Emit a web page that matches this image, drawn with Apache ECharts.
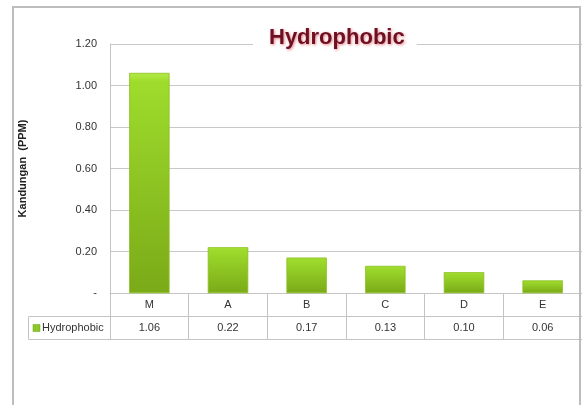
<!DOCTYPE html>
<html>
<head>
<meta charset="utf-8">
<script src="https://cdn.jsdelivr.net/npm/echarts@6/dist/echarts.min.js"></script>
<style>
  html, body { margin: 0; padding: 0; background: #ffffff; }
  #chart { width: 582px; height: 405px; }
</style>
</head>
<body>
<div id="chart"></div>
<script>
// Hydrophobic content per sample (PPM)
const categories = ['M', 'A', 'B', 'C', 'D', 'E'];
const hydrophobic = [1.06, 0.22, 0.17, 0.13, 0.10, 0.06];
const seriesName = 'Hydrophobic';
const yTicks = [0, 0.2, 0.4, 0.6, 0.8, 1.0, 1.2];

const FONT = '"Liberation Sans", "DejaVu Sans", sans-serif';
const GRID = { left: 110, top: 44, right: -2, bottom: 112 };
const ROW = 23; // height of one data-table row
const LINE = '#c4c4c4';

const chart = echarts.init(document.getElementById('chart'), null, { renderer: 'canvas' });

const barFill = new echarts.graphic.LinearGradient(0, 0, 0, 1, [
  { offset: 0, color: '#b4ea48' },
  { offset: 0.04, color: '#9edc2c' },
  { offset: 1, color: '#7aaa18' }
]);

const option = {
  backgroundColor: '#ffffff',
  animation: false,
  title: {
    text: 'Hydrophobic',
    left: 253,
    top: 27,
    backgroundColor: '#ffffff',
    padding: [0, 12, 0, 16],
    textStyle: {
      fontFamily: FONT,
      fontSize: 22,
      fontWeight: 'bold',
      color: '#6e0f22',
      textShadowColor: 'rgba(200,30,40,0.55)',
      textShadowBlur: 3,
      textShadowOffsetX: 1,
      textShadowOffsetY: 1
    },
    z: 10
  },
  grid: GRID,
  xAxis: [
    {
      type: 'category',
      data: categories,
      boundaryGap: true,
      axisLine: { show: true, lineStyle: { color: LINE, width: 1 } },
      axisTick: { show: true, inside: false, length: ROW * 2, alignWithLabel: false,
                  lineStyle: { color: LINE } },
      axisLabel: { margin: 6, fontFamily: FONT, fontSize: 11, color: '#333333' }
    },
    {
      type: 'category',
      data: categories,
      position: 'bottom',
      offset: ROW,
      axisLine: { show: false },
      axisTick: { show: false },
      axisLabel: {
        margin: 6, fontFamily: FONT, fontSize: 11, color: '#333333',
        formatter: (v, i) => hydrophobic[i].toFixed(2)
      }
    }
  ],
  yAxis: {
    type: 'value',
    min: 0,
    max: yTicks[yTicks.length - 1],
    interval: 0.2,
    name: 'Kandungan  (PPM)',
    nameLocation: 'middle',
    nameGap: 82,
    nameTextStyle: { fontFamily: FONT, fontSize: 11, fontWeight: 'bold', color: '#222222' },
    axisLine: { show: true, lineStyle: { color: LINE, width: 1 } },
    axisTick: { show: false },
    axisLabel: {
      margin: 13, fontFamily: FONT, fontSize: 11, color: '#333333',
      formatter: v => (v === 0 ? '-' : v.toFixed(2))
    },
    splitLine: { show: true, lineStyle: { color: '#c8c8c8', width: 1 } }
  },
  series: [
    {
      name: seriesName,
      type: 'bar',
      data: hydrophobic,
      barWidth: '51%',
      itemStyle: { color: barFill, borderColor: '#8fbf24', borderWidth: 0.5 }
    }
  ]
};

chart.setOption(option);

// Data table rows under the axis, the legend cell and the outer frame
const lineStyle = { stroke: LINE, lineWidth: 1 };
const base = chart.convertToPixel({ gridIndex: 0 }, [0, 0]);
const y0 = Math.round(base[1]) + 0.5;
const xPlot = GRID.left + 0.5;
const xRight = 582 + 2;
const xLegend = 28.5;
const yLegendMid = y0 + ROW * 1.5;

chart.setOption({
  graphic: [
    { type: 'line', shape: { x1: xLegend, y1: y0 + ROW, x2: xRight, y2: y0 + ROW }, style: lineStyle, silent: true },
    { type: 'line', shape: { x1: xLegend, y1: y0 + ROW * 2, x2: xRight, y2: y0 + ROW * 2 }, style: lineStyle, silent: true },
    { type: 'line', shape: { x1: xLegend, y1: y0 + ROW, x2: xLegend, y2: y0 + ROW * 2 }, style: lineStyle, silent: true },
    { type: 'line', shape: { x1: xPlot, y1: y0, x2: xPlot, y2: y0 + ROW * 2 }, style: lineStyle, silent: true },
    { type: 'rect', shape: { x: 33, y: yLegendMid - 3.5, width: 7, height: 7 },
      style: { fill: '#8cc826', stroke: '#6f9e18', lineWidth: 0.5 }, silent: true },
    { type: 'text', x: 42, y: yLegendMid, silent: true,
      style: { text: seriesName, fontFamily: FONT, fontSize: 11, fill: '#333333', verticalAlign: 'middle' } },
    { type: 'rect', shape: { x: 13, y: 7, width: 567, height: 420 },
      style: { fill: 'none', stroke: '#bdbdbd', lineWidth: 2 }, silent: true, z: 20 }
  ]
});
</script>
</body>
</html>
